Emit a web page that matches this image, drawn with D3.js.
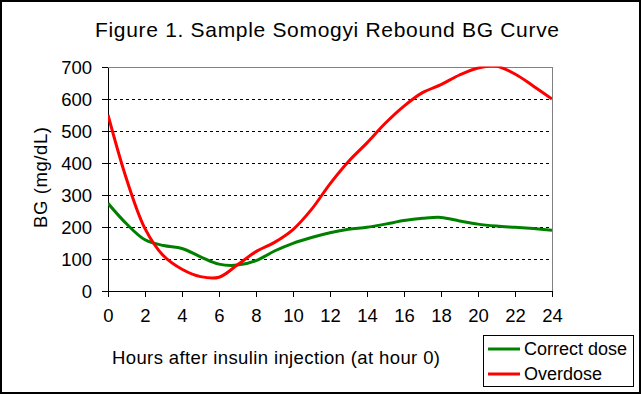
<!DOCTYPE html>
<html>
<head>
<meta charset="utf-8">
<script src="https://cdn.jsdelivr.net/npm/d3@7"></script>
<style>
  html, body { margin: 0; padding: 0; background: #fff; }
  svg { display: block; font-family: "Liberation Sans", Arial, sans-serif; }
</style>
</head>
<body>
<div id="chart"></div>
<script>
// values
const hours = d3.range(0, 25);
const correctDose = [274, 210, 160, 142, 133, 107, 84, 81, 95, 125, 149, 167, 182,
                     193, 199, 209, 220, 227, 230, 219, 209, 203, 199, 195, 190];
const overdose = [550, 350, 195, 110, 68, 45, 43, 82, 123, 152, 192, 255, 335,
                  405, 463, 525, 578, 620, 645, 675, 697, 702, 678, 640, 600];
const xTicks = d3.range(0, 25, 2);
const yTicks = d3.range(0, 701, 100);
const seriesNames = ['Correct dose', 'Overdose'];
const seriesColors = ['#008000', '#ff0000'];

(function(){
  let W = 641, H = 394,
      margin = {top: 67, left: 108, right: 89, bottom: 103};
  let width = W - margin.left - margin.right,
      height = H - margin.top - margin.bottom;

  let svg = d3.select('#chart').append('svg')
    .attr('width', W)
    .attr('height', H);

  // outer frame
  svg.append('rect')
    .attr('x', 1).attr('y', 1)
    .attr('width', W - 2).attr('height', H - 2)
    .attr('fill', '#fff')
    .attr('stroke', '#000')
    .attr('stroke-width', 2);

  svg.append('text')
    .attr('x', 95).attr('y', 37)
    .attr('font-size', 21)
    .attr('textLength', 464)
    .text('Figure 1. Sample Somogyi Rebound BG Curve');

  let x = d3.scaleLinear().domain([0, 24]).range([0, width]);
  let y = d3.scaleLinear().domain([0, 700]).range([height, 0]);

  let g = svg.append('g')
    .attr('transform', 'translate(' + margin.left + ',' + margin.top + ')');

  // plot border (grey top/right)
  g.append('rect')
    .attr('x', 0.5).attr('y', 0.5)
    .attr('width', width).attr('height', height)
    .attr('fill', '#fff')
    .attr('stroke', '#808080')
    .attr('stroke-width', 1);

  // dashed grid
  g.append('g')
    .selectAll('line')
    .data(yTicks.filter(d => d > 0 && d < 700))
    .enter().append('line')
      .attr('x1', 0).attr('x2', width)
      .attr('y1', d => Math.round(y(d)) + 0.5)
      .attr('y2', d => Math.round(y(d)) + 0.5)
      .attr('stroke', '#000')
      .attr('stroke-dasharray', '3,3')
      .attr('shape-rendering', 'crispEdges');

  let xAxis = g.append('g')
    .attr('transform', 'translate(0,' + height + ')')
    .call(d3.axisBottom(x).tickValues(xTicks).tickSize(6).tickSizeOuter(0).tickPadding(12));

  let yAxis = g.append('g')
    .call(d3.axisLeft(y).tickValues(yTicks).tickSize(6).tickSizeOuter(0).tickPadding(10));

  [xAxis, yAxis].forEach(a => {
    a.attr('font-family', null).attr('font-size', 18.5);
    a.selectAll('path, line').attr('stroke', '#000').attr('shape-rendering', 'crispEdges');
    a.selectAll('text').attr('fill', '#000');
  });
  yAxis.selectAll('text').attr('dy', '0.36em');

  g.append('clipPath').attr('id', 'plot-clip')
    .append('rect').attr('width', width).attr('height', height + 1).attr('y', -0.5);

  let line = d3.line()
    .x((d, i) => x(hours[i]))
    .y(d => y(d))
    .curve(d3.curveCatmullRom);

  g.append('g')
    .attr('clip-path', 'url(#plot-clip)')
    .selectAll('path')
    .data([correctDose, overdose])
    .enter().append('path')
      .attr('d', line)
      .attr('fill', 'none')
      .attr('stroke', (d, i) => seriesColors[i])
      .attr('stroke-width', 3);

  // axis titles
  svg.append('text')
    .attr('x', 112).attr('y', 364)
    .attr('font-size', 18.5)
    .attr('textLength', 328)
    .text('Hours after insulin injection (at hour 0)');

  svg.append('text')
    .attr('transform', 'translate(47,228) rotate(-90)')
    .attr('font-size', 18.5)
    .attr('textLength', 101)
    .text('BG (mg/dL)');

  // legend
  let legend = svg.append('g');
  legend.append('rect')
    .attr('x', 483.5).attr('y', 335.5)
    .attr('width', 150).attr('height', 51)
    .attr('fill', '#fff')
    .attr('stroke', '#000')
    .attr('stroke-width', 1);

  let items = legend.selectAll('g.item')
    .data(seriesNames)
    .enter().append('g')
      .attr('class', 'item')
      .attr('transform', (d, i) => 'translate(0,' + (349 + i * 25) + ')');

  items.append('line')
    .attr('x1', 488).attr('x2', 520)
    .attr('stroke', (d, i) => seriesColors[i])
    .attr('stroke-width', 3);

  items.append('text')
    .attr('x', 524).attr('dy', '0.36em')
    .attr('font-size', 18)
    .text(d => d);
})();
</script>
</body>
</html>
